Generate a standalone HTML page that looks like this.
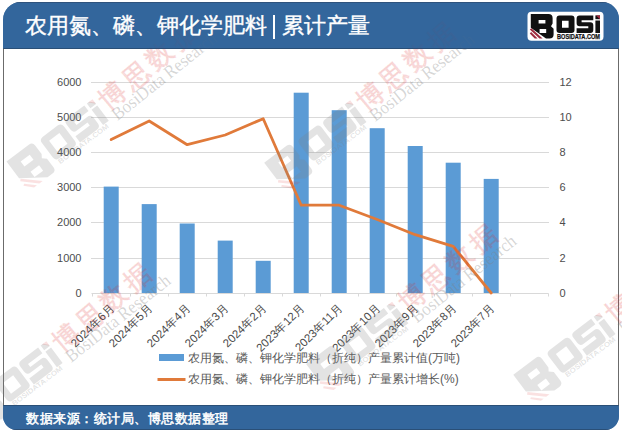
<!DOCTYPE html>
<html><head><meta charset="utf-8">
<style>
html,body{margin:0;padding:0;background:#fff;}
body{width:622px;height:434px;position:relative;overflow:hidden;font-family:"Liberation Sans",sans-serif;}
.frame{position:absolute;left:3px;top:2px;width:616px;height:428px;border-radius:18px 17px 14px 14px;overflow:hidden;background:#fff;}
.side{position:absolute;top:46px;height:360px;width:1px;background:#6b6b6b;}
.hdr{position:absolute;left:0;top:0;width:616px;height:47px;background:#33669C;box-shadow:inset 0 1px 0 rgba(40,50,70,0.35),inset 0 -1px 0 rgba(30,45,65,0.4);}
.ftr{position:absolute;left:0;top:403px;width:616px;height:25px;background:#33669C;box-shadow:inset 0 1px 0 rgba(30,45,65,0.4),inset 0 -1px 0 rgba(30,45,65,0.4);}
.title{position:absolute;top:13px;color:#fff;font-size:22px;line-height:26px;white-space:nowrap;-webkit-text-stroke:0.35px #fff;}
.bar{position:absolute;left:273px;top:15px;width:2px;height:24px;background:#fff;}
.src{position:absolute;left:26px;top:410px;color:#fff;font-size:13px;line-height:18px;letter-spacing:0.5px;white-space:nowrap;-webkit-text-stroke:0.5px #fff;}
.leg{position:absolute;color:#595959;font-size:12px;line-height:14px;white-space:nowrap;}
svg{position:absolute;left:0;top:0;}
.ov{background:transparent;opacity:0.8;}
</style></head><body>
<div class="frame">
  <div class="hdr"></div>
  <div class="ftr"></div>
  <div class="side" style="left:0"></div>
  <div class="side" style="left:615px"></div>
</div>
<svg width="622" height="434" viewBox="0 0 622 434">
<g stroke="#D9D9D9" stroke-width="1">
<line x1="91" y1="82.5" x2="549" y2="82.5"/>
<line x1="91" y1="117.5" x2="549" y2="117.5"/>
<line x1="91" y1="152.5" x2="549" y2="152.5"/>
<line x1="91" y1="187.5" x2="549" y2="187.5"/>
<line x1="91" y1="222.5" x2="549" y2="222.5"/>
<line x1="91" y1="258.5" x2="549" y2="258.5"/>
</g>
<g stroke="#D9D9D9" stroke-width="1">
<line x1="91.5" y1="293.5" x2="548.5" y2="293.5"/>
<line x1="92.5" y1="293.5" x2="92.5" y2="296.5"/>
<line x1="130.5" y1="293.5" x2="130.5" y2="296.5"/>
<line x1="168.5" y1="293.5" x2="168.5" y2="296.5"/>
<line x1="206.5" y1="293.5" x2="206.5" y2="296.5"/>
<line x1="244.5" y1="293.5" x2="244.5" y2="296.5"/>
<line x1="282.5" y1="293.5" x2="282.5" y2="296.5"/>
<line x1="320.5" y1="293.5" x2="320.5" y2="296.5"/>
<line x1="358.5" y1="293.5" x2="358.5" y2="296.5"/>
<line x1="396.5" y1="293.5" x2="396.5" y2="296.5"/>
<line x1="434.5" y1="293.5" x2="434.5" y2="296.5"/>
<line x1="472.5" y1="293.5" x2="472.5" y2="296.5"/>
<line x1="510.5" y1="293.5" x2="510.5" y2="296.5"/>
<line x1="548.5" y1="293.5" x2="548.5" y2="296.5"/>
</g>
<rect x="103.7" y="186.6" width="15" height="106.4" fill="#5B9BD5"/>
<rect x="141.7" y="204.1" width="15" height="88.9" fill="#5B9BD5"/>
<rect x="179.7" y="223.5" width="15" height="69.5" fill="#5B9BD5"/>
<rect x="217.7" y="240.6" width="15" height="52.4" fill="#5B9BD5"/>
<rect x="255.7" y="260.8" width="15" height="32.2" fill="#5B9BD5"/>
<rect x="293.7" y="92.7" width="15" height="200.3" fill="#5B9BD5"/>
<rect x="331.7" y="110.2" width="15" height="182.8" fill="#5B9BD5"/>
<rect x="369.7" y="128.2" width="15" height="164.8" fill="#5B9BD5"/>
<rect x="407.7" y="146.0" width="15" height="147.0" fill="#5B9BD5"/>
<rect x="445.7" y="162.7" width="15" height="130.3" fill="#5B9BD5"/>
<rect x="483.7" y="178.9" width="15" height="114.1" fill="#5B9BD5"/>
<polyline points="111.2,139.6 149.2,121.0 187.2,144.7 225.2,135.0 263.2,118.7 301.2,205.2 339.2,205.2 377.2,219.5 415.2,234.7 453.2,246.3 491.2,293.0" fill="none" stroke="#E07A3A" stroke-width="2.8" stroke-linejoin="round" stroke-linecap="round"/>
<g fill="#4D4D4D" font-family="Liberation Sans" font-size="11" text-anchor="end">
<text x="81.5" y="86">6000</text>
<text x="81.5" y="121">5000</text>
<text x="81.5" y="156">4000</text>
<text x="81.5" y="191">3000</text>
<text x="81.5" y="226">2000</text>
<text x="81.5" y="261.5">1000</text>
<text x="81.5" y="296.5">0</text>
</g>
<g fill="#4D4D4D" font-family="Liberation Sans" font-size="11">
<text x="559.5" y="86">12</text>
<text x="559.5" y="121">10</text>
<text x="559.5" y="156">8</text>
<text x="559.5" y="191">6</text>
<text x="559.5" y="226">4</text>
<text x="559.5" y="261.5">2</text>
<text x="559.5" y="296.5">0</text>
</g>
<g fill="#4A4A4A" font-family="Liberation Sans" font-size="11.5" text-anchor="end">
<text transform="translate(115.2,308.5) rotate(-45)">2024年6月</text>
<text transform="translate(153.2,308.5) rotate(-45)">2024年5月</text>
<text transform="translate(191.2,308.5) rotate(-45)">2024年4月</text>
<text transform="translate(229.2,308.5) rotate(-45)">2024年3月</text>
<text transform="translate(267.2,308.5) rotate(-45)">2024年2月</text>
<text transform="translate(305.2,308.5) rotate(-45)">2023年12月</text>
<text transform="translate(343.2,308.5) rotate(-45)">2023年11月</text>
<text transform="translate(381.2,308.5) rotate(-45)">2023年10月</text>
<text transform="translate(419.2,308.5) rotate(-45)">2023年9月</text>
<text transform="translate(457.2,308.5) rotate(-45)">2023年8月</text>
<text transform="translate(495.2,308.5) rotate(-45)">2023年7月</text>
</g>

<rect x="159" y="354" width="25" height="7" fill="#5B9BD5"/>
<line x1="157.5" y1="379.5" x2="185.5" y2="379.5" stroke="#E07A3A" stroke-width="3"/>
</svg>
<div class="leg" style="left:188px;top:351px">农用氮、磷、钾化学肥料（折纯）产量累计值(万吨)</div>
<div class="leg" style="left:188px;top:372px">农用氮、磷、钾化学肥料（折纯）产量累计增长(%)</div>
<svg width="622" height="434" viewBox="0 0 622 434" style="position:absolute;left:0;top:0">
<defs>
<g id="wm">
<g fill="#808080" fill-opacity="0.22" transform="translate(67.5,3) rotate(3) scale(0.93) translate(-67.5,-3)">
<path fill-rule="evenodd" d="M0,0 H18.2 Q21.2,0 21.2,2.9 V9.9 L19.7,12.1 L22.2,14.4 V21.4 Q22.2,24.3 19.2,24.3 H15.2 L0,13.6 Z M7.4,5.5 V9.6 H14.8 V5.5 Z M8.5,14.7 V19.1 H15.5 V14.7 Z"/>
<path fill-rule="evenodd" d="M25.7,4.3 Q25.7,1.3 28.7,1.3 H40.7 Q43.7,1.3 43.7,4.3 V15.9 Q43.7,18.9 40.7,18.9 H28.7 Q25.7,18.9 25.7,15.9 Z M30.3,5.9 V14.7 H38.7 V5.9 Z"/>
<path d="M45.8,4.3 Q45.8,1.3 48.8,1.3 H62.5 V5.9 H50.8 V8.4 H59.5 Q62.5,8.4 62.5,11.4 V15.9 Q62.5,18.9 59.5,18.9 H45.8 V13.9 H57.5 V11.4 H48.8 Q45.8,11.4 45.8,8.4 Z"/>
<path d="M64.6,6.4 H69.2 V18.9 H64.6 Z M64.6,1.3 H66.5 L69.2,4 V5.1 H64.6 Z"/>
<text x="27" y="22.5" font-family="Liberation Sans" font-weight="bold" font-size="4.6" textLength="40" lengthAdjust="spacingAndGlyphs">BOSIDATA.COM</text>
</g>
<g fill="#DC2828" fill-opacity="0.14">
<g transform="translate(67.5,3) rotate(3) scale(0.93) translate(-67.5,-3)"><path d="M-0.6,15.7 L0.6,14.5 L11.2,24.3 H8.5 Z M-0.6,19.2 L0.4,18.5 L6.5,24.3 H4.2 Z"/>
<path d="M65.7,1.3 H69.2 V4.9 Z"/></g>
<text x="71.8" y="13" font-family="Liberation Serif" font-size="16" letter-spacing="3" stroke="#DC2828" stroke-width="0.8" stroke-opacity="0.1" paint-order="stroke">博思数据</text>
</g>
<text x="72.3" y="21.3" fill="#808080" fill-opacity="0.32" font-family="Liberation Serif" font-size="11" textLength="78" lengthAdjust="spacingAndGlyphs" transform="rotate(1.4 72.3 21.3)">BosiData Research</text>
</g>
</defs>
<use href="#wm" transform="translate(3.5,170.7) rotate(-40) scale(1.65)"/>
<use href="#wm" transform="translate(261.2,171.8) rotate(-40) scale(1.65)"/>
<use href="#wm" transform="translate(-42.7,412.8) rotate(-40) scale(1.65)"/>
<use href="#wm" transform="translate(303.1,373.2) rotate(-40) scale(1.65)"/>
<use href="#wm" transform="translate(510.3,384) rotate(-40) scale(1.65)"/>
</svg>
<div class="frame ov">
  <div class="hdr"></div>
  <div class="ftr"></div>
</div>
<div class="title" style="left:25px">农用氮、磷、钾化学肥料</div>
<div class="bar"></div>
<div class="title" style="left:282px">累计产量</div>
<div class="src">数据来源：统计局、博思数据整理</div>
<svg width="622" height="434" viewBox="0 0 622 434">
<g id="logo">
<rect x="527.5" y="11.8" width="76" height="29" rx="4" fill="#fff"/>
<path d="M530.8,14.1 H548.5 Q552.6,14.1 552.6,18 V23.5 L551,26.2 L553.6,28.8 V34.5 Q553.6,38.4 549.5,38.4 H546 L530.8,27.7 Z M538.6,19.9 V23.4 H545.4 V19.9 Z M539.6,29.1 V32.9 H546.2 V29.1 Z" fill="#111" fill-rule="evenodd"/>
<path d="M529.8,29.6 L531.3,28.2 L542.6,38.6 H539.4 Z M529.8,33.4 L531.1,32.1 L537.6,38.6 H534.7 Z" fill="#9E2B3E"/>
<path d="M556.5,18.4 Q556.5,15.4 559.5,15.4 H571.5 Q574.5,15.4 574.5,18.4 V30 Q574.5,33 571.5,33 H559.5 Q556.5,33 556.5,30 Z M562,20.8 V27.8 H568.6 V20.8 Z" fill="#111" fill-rule="evenodd"/>
<path d="M576.6,18.4 Q576.6,15.4 579.6,15.4 H593.3 V20.2 H581.6 V22.2 H590.3 Q593.3,22.2 593.3,25.2 V30 Q593.3,33 590.3,33 H576.6 V28.2 H588.3 V26.2 H579.6 Q576.6,26.2 576.6,23.2 Z" fill="#111"/>
<rect x="595.4" y="20.5" width="4.6" height="12.5" fill="#111"/>
<rect x="595.4" y="15.4" width="4.6" height="3.8" fill="#111"/><path d="M595.9,15.4 H600 V19.2 Z" fill="#A52A3F"/>
<text x="557" y="39.3" font-family="Liberation Sans" font-weight="bold" font-size="6.4" textLength="43" lengthAdjust="spacingAndGlyphs" fill="#111" stroke="#111" stroke-width="0.25">BOSIDATA.COM</text>
</g>
</svg>
</body></html>
